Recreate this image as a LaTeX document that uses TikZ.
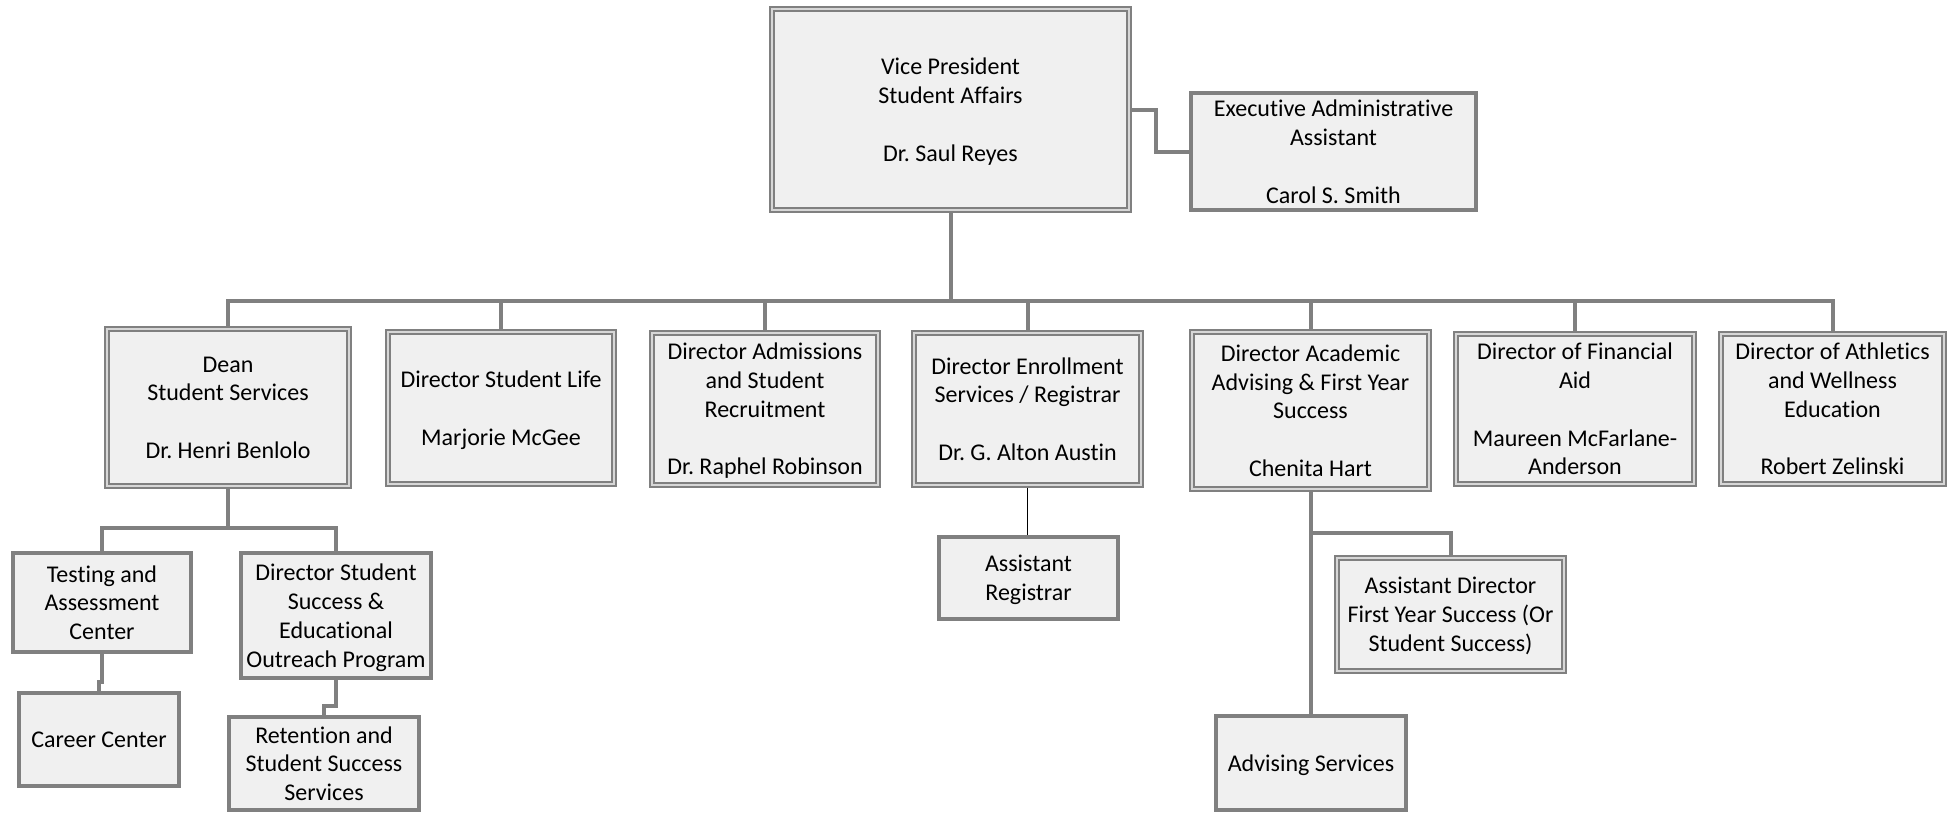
\documentclass[tikz,border=0pt]{standalone}
\usepackage{fontspec}
\setmainfont{Carlito}[Ligatures=NoCommon]
\usepackage{tikz}
\usetikzlibrary{backgrounds}
\definecolor{mgray}{RGB}{128,128,128}
\definecolor{mfill}{RGB}{240,240,240}
\definecolor{mgap}{RGB}{215,215,215}
\frenchspacing

\begin{document}
\begin{tikzpicture}[x=1pt, y=-1pt,
    box/.style={draw=mgray, line width=4pt, fill=mfill, inner sep=0pt,
                font=\fontsize{24}{28.8}\selectfont, align=center,
                text depth=-7pt},
    dbox/.style={box, line width=2.4pt, double=mgap, double distance=1.2pt},
    conn/.style={mgray, line width=4pt},
    tline/.style={black, line width=1pt},
  ]
    \useasboundingbox (0,0) rectangle (1953,812);
    \coordinate (bus) at (0,301);

    \node[dbox, minimum width=357pt, minimum height=201pt] (vp)   at (950.5,109.5)  {Vice President\\Student Affairs\\[28.8pt]Dr. Saul Reyes};
    \node[box,  minimum width=285pt, minimum height=117pt] (exec) at (1333.5,151.5) {Executive Administrative\\Assistant\\[28.8pt]Carol S. Smith};

    \node[dbox, minimum width=242pt, minimum height=157pt] (dean) at (228,407.5)    {Dean\\Student Services\\[28.8pt]Dr. Henri Benlolo};
    \node[dbox, minimum width=226pt, minimum height=152pt] (life) at (501,408)      {Director Student Life\\[28.8pt]Marjorie McGee};
    \node[dbox, minimum width=226pt, minimum height=152pt] (adm)  at (765,409)      {Director Admissions\\and Student\\Recruitment\\[28.8pt]Dr. Raphel Robinson};
    \node[dbox, minimum width=227pt, minimum height=152pt] (enr)  at (1027.5,409)   {Director Enrollment\\Services / Registrar\\[28.8pt]Dr. G. Alton Austin};
    \node[dbox, minimum width=237pt, minimum height=157pt] (acad) at (1310.5,410.5)  {Director Academic\\Advising \& First Year\\Success\\[28.8pt]Chenita Hart};
    \node[dbox, minimum width=238pt, minimum height=150pt] (fin)  at (1575,409)     {Director of Financial\\Aid\\[28.8pt]Maureen McFarlane-\\Anderson};
    \node[dbox, minimum width=223pt, minimum height=150pt] (ath)  at (1832.5,409)   {Director of Athletics\\and Wellness\\Education\\[28.8pt]Robert Zelinski};

    \node[box,  minimum width=178pt, minimum height=99pt]  (test)   at (102,602.5)   {Testing and\\Assessment\\Center};
    \node[box,  minimum width=190pt, minimum height=125pt] (dss)    at (336,615.5)   {Director Student\\Success \&\\Educational\\Outreach Program};
    \node[box,  minimum width=160pt, minimum height=93pt]  (career) at (99,739.5)    {Career Center};
    \node[box,  minimum width=190pt, minimum height=93pt]  (ret)    at (324,763.5)   {Retention and\\Student Success\\Services};
    \node[box,  minimum width=179pt, minimum height=82pt]  (areg)   at (1028.5,578)  {Assistant\\Registrar};
    \node[dbox, minimum width=227pt, minimum height=113pt] (adir)   at (1450.5,614.5) {Assistant Director\\First Year Success (Or\\Student Success)};
    \node[box,  minimum width=190pt, minimum height=94pt]  (adv)    at (1311,763)    {Advising Services};

    % connectors behind the boxes
    \begin{scope}[on background layer]
      \draw[conn] (vp.east) -- ++(26,0) |- (exec.west);
      \draw[conn] (vp) |- (bus -| dean) -- (dean);
      \draw[conn] (vp) |- (bus -| life) -- (life);
      \draw[conn] (vp) |- (bus -| adm)  -- (adm);
      \draw[conn] (vp) |- (bus -| enr)  -- (enr);
      \draw[conn] (vp) |- (bus -| acad) -- (acad);
      \draw[conn] (vp) |- (bus -| fin)  -- (fin);
      \draw[conn] (vp) |- (bus -| ath)  -- (ath);

      \draw[conn] (dean.south) -- ++(0,41) -| (test.north);
      \draw[conn] (dean.south) -- ++(0,41) -| (dss.north);
      \draw[conn] (test.south) -- ++(0,28) -| (career.north);
      \draw[conn] (dss.south)  -- ++(0,26) -| (ret.north);

      \draw[tline] (enr.south) -- (enr.south |- areg.north);

      \draw[conn] (acad.south) -- ++(0,43) -| (adir.north);
      \draw[conn] (acad.south) -- (acad.south |- adv.north);
    \end{scope}
\end{tikzpicture}
\end{document}
